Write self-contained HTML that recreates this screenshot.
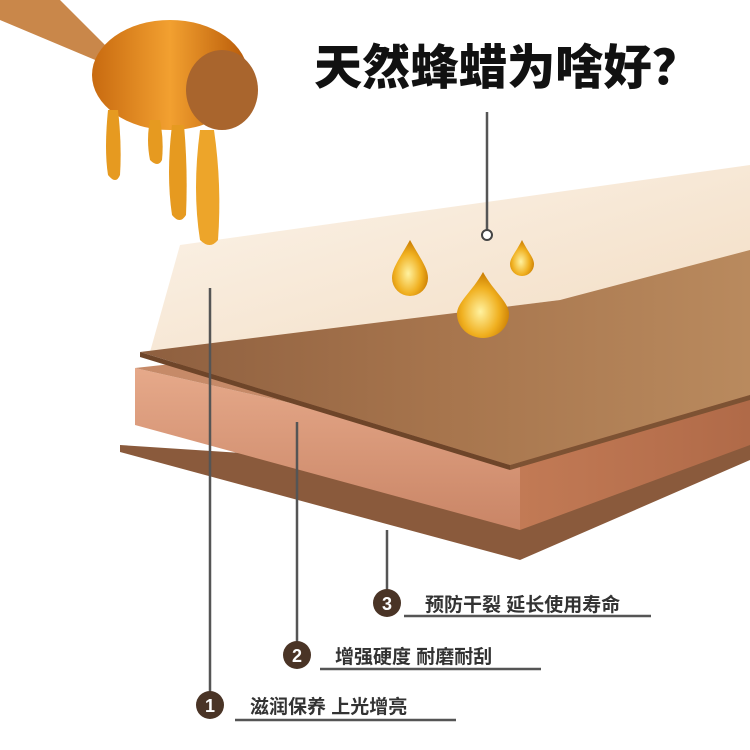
<!DOCTYPE html>
<html><head><meta charset="utf-8"><style>
html,body{margin:0;padding:0;background:#fff;width:750px;height:750px;overflow:hidden}
svg{display:block}
</style></head><body>
<svg width="750" height="750" viewBox="0 0 750 750" xmlns="http://www.w3.org/2000/svg">
<defs>
<linearGradient id="wax" x1="0" y1="0" x2="1" y2="1"><stop offset="0" stop-color="#fcf4ea"/><stop offset="1" stop-color="#f2dcc2"/></linearGradient>
<linearGradient id="top" x1="0" y1="0" x2="1" y2="0"><stop offset="0" stop-color="#8e5f3f"/><stop offset="0.5" stop-color="#a7754d"/><stop offset="1" stop-color="#b98a5e"/></linearGradient>
<linearGradient id="mid" x1="0" y1="0" x2="0" y2="1"><stop offset="0" stop-color="#e6a98a"/><stop offset="1" stop-color="#c98566"/></linearGradient>
<linearGradient id="side" x1="0" y1="0" x2="1" y2="0"><stop offset="0" stop-color="#c27a55"/><stop offset="1" stop-color="#b06a48"/></linearGradient>
<radialGradient id="drop" cx="0.45" cy="0.6" r="0.6"><stop offset="0" stop-color="#fff2a0"/><stop offset="0.6" stop-color="#f0b020"/><stop offset="1" stop-color="#c87a00"/></radialGradient>
<linearGradient id="honey" x1="0" y1="0" x2="1" y2="0"><stop offset="0" stop-color="#c86a10"/><stop offset="0.5" stop-color="#f2a030"/><stop offset="1" stop-color="#b85a08"/></linearGradient>
</defs>
<polygon points="180,245 750,165 750,255 560,300 150,352" fill="url(#wax)"/>
<polygon points="120,445 500,470 750,420 750,460 520,560 120,452" fill="#8a5a3c"/>
<polygon points="135,368 520,455 520,530 135,425" fill="url(#mid)"/>
<polygon points="520,455 750,385 750,445 520,530" fill="url(#side)"/>
<polygon points="135,368 300,350 750,330 750,385 520,455" fill="#c68a68"/>
<polygon points="140,352 560,300 750,250 750,395 510,465" fill="url(#top)"/>
<polygon points="140,352 510,465 510,470 140,357" fill="#6e4529"/>
<polygon points="510,465 750,395 750,400 510,470" fill="#7d5233"/>
<path d="M410,240 C400,258 392,268 392,278 A18,18 0 0 0 428,278 C428,268 420,258 410,240Z" fill="url(#drop)"/>
<path d="M522,240 C516,252 510,258 510,264 A12,12 0 0 0 534,264 C534,258 528,252 522,240Z" fill="url(#drop)"/>
<path d="M483,272 C472,292 457,302 457,314 A26,24 0 0 0 509,314 C509,302 494,292 483,272Z" fill="url(#drop)"/>
<polygon points="0,0 60,0 110,50 100,62 0,20" fill="#c9874a"/>
<ellipse cx="170" cy="75" rx="78" ry="55" fill="url(#honey)"/>
<ellipse cx="222" cy="90" rx="36" ry="40" fill="#a9652d"/>
<path d="M108,110 q-4,40 0,65 q8,10 12,0 q2,-30 -2,-65Z" fill="#e69a20"/>
<path d="M150,120 q-4,20 0,40 q8,8 12,0 q2,-20 -2,-40Z" fill="#e69a20"/>
<path d="M172,125 q-6,50 0,90 q8,10 14,0 q2,-45 -2,-90Z" fill="#e69a20"/>
<path d="M200,130 q-8,60 0,110 q10,10 18,0 q4,-55 -4,-110Z" fill="#eda52a"/>
<text x="314" y="84" font-family="Liberation Sans, Noto Sans CJK SC, sans-serif" font-size="48" font-weight="900" fill="#111" textLength="386" lengthAdjust="spacingAndGlyphs">天然蜂蜡为啥好？</text>
<g stroke="#555" stroke-width="2.5" fill="none">
<line x1="487" y1="112" x2="487" y2="230"/>
<line x1="210" y1="288" x2="210" y2="705"/>
<line x1="297" y1="422" x2="297" y2="655"/>
<line x1="387" y1="530" x2="387" y2="603"/>
<line x1="404" y1="616" x2="651" y2="616"/>
<line x1="320" y1="669" x2="541" y2="669"/>
<line x1="235" y1="720" x2="456" y2="720"/>
</g>
<circle cx="487" cy="235" r="5" fill="#fff" stroke="#444" stroke-width="2"/>
<g fill="#4a3426"><circle cx="387" cy="603" r="14"/><circle cx="297" cy="655" r="14"/><circle cx="210" cy="705" r="14"/></g>
<g font-family="Liberation Sans, Noto Sans CJK SC, sans-serif" font-weight="bold" fill="#fff" font-size="18" text-anchor="middle">
<text x="387" y="610">3</text><text x="297" y="662">2</text><text x="210" y="712">1</text></g>
<g font-family="Liberation Sans, Noto Sans CJK SC, sans-serif" font-weight="bold" fill="#333" font-size="19">
<text x="425" y="611">预防干裂 延长使用寿命</text>
<text x="335" y="663">增强硬度 耐磨耐刮</text>
<text x="250" y="713">滋润保养 上光增亮</text></g>
</svg>
</body></html>
